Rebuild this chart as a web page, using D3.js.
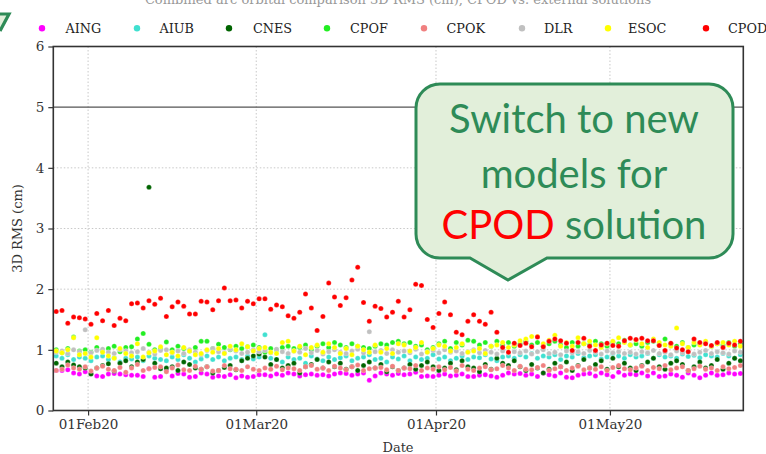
<!DOCTYPE html>
<html><head><meta charset="utf-8">
<script src="https://cdn.jsdelivr.net/npm/d3@7"></script>
<style>body{margin:0;background:#fff}svg{display:block}</style>
</head><body><svg id="c" width="766" height="454"></svg>
<script>
const seriesNames = ["AING","AIUB","CNES","CPOF","CPOK","DLR","ESOC","CPOD"];
const seriesColors = ["#ff00ff","#40e0d0","#006400","#22ee22","#f08080","#c0c0c0","#ffff00","#ff0000"];
const startDate = "2020-01-26";
const xTickDates = ["2020-02-01","2020-03-01","2020-04-01","2020-05-01"];
const xTickLabels = ["01Feb20","01Mar20","01Apr20","01May20"];
const yTicks = [0,1,2,3,4,5,6];

const AING = [0.66,0.66,0.67,0.62,0.60,0.64,0.61,0.57,0.56,0.60,0.61,0.60,0.59,0.58,0.58,0.56,0.69,0.55,0.56,0.66,
0.57,0.61,0.60,0.55,0.56,0.62,0.60,0.55,0.57,0.56,0.59,0.54,0.57,0.55,0.56,0.59,0.59,0.57,0.60,0.58,
0.62,0.60,0.57,0.59,0.60,0.58,0.59,0.57,0.60,0.62,0.61,0.58,0.60,0.62,0.50,0.57,0.62,0.60,0.58,0.61,
0.59,0.60,0.63,0.56,0.57,0.56,0.58,0.60,0.57,0.58,0.60,0.56,0.56,0.58,0.59,0.57,0.55,0.58,0.62,0.60,
0.61,0.58,0.60,0.56,0.62,0.59,0.57,0.62,0.55,0.54,0.58,0.60,0.61,0.57,0.62,0.59,0.56,0.63,0.58,0.60,
0.59,0.62,0.57,0.62,0.56,0.57,0.60,0.58,0.55,0.62,0.58,0.54,0.58,0.62,0.58,0.59,0.62,0.60,0.61];
const AIUB = [0.90,0.86,0.92,0.84,0.88,0.86,0.82,0.88,0.90,0.84,0.87,0.80,0.86,0.85,0.88,0.82,0.90,0.86,0.84,0.82,
0.88,0.84,0.92,0.86,0.80,0.85,0.90,0.84,0.88,0.82,0.86,0.88,0.84,0.90,0.85,0.88,1.25,0.86,0.84,0.80,
0.88,0.84,0.86,0.78,0.90,0.85,0.82,0.88,0.84,0.87,0.90,0.82,0.86,0.88,0.92,0.84,0.86,0.80,0.88,0.85,
0.90,0.82,0.88,0.84,0.86,0.92,0.85,0.88,0.82,0.86,0.90,0.84,0.88,0.87,0.92,0.85,0.82,0.88,0.90,0.86,
0.92,0.88,0.94,0.86,0.90,0.88,0.92,0.84,0.90,0.88,0.94,0.87,0.90,0.92,0.85,0.88,0.94,0.90,0.86,0.92,
0.88,0.90,0.94,0.86,0.92,0.88,0.90,0.86,0.93,0.89,0.91,0.87,0.92,0.90,0.88,0.94,0.90,0.86,0.92];
const CNES = [0.78,0.72,0.80,0.75,0.72,0.70,0.60,0.70,0.74,0.77,0.65,0.78,0.82,0.72,0.80,0.84,3.68,0.78,0.69,0.70,
0.72,0.66,0.80,0.76,0.70,0.68,0.72,0.62,0.66,0.71,0.74,0.67,0.82,0.86,0.90,0.93,0.88,0.76,0.84,0.70,
0.74,0.78,0.62,0.72,0.76,0.84,0.70,0.80,0.72,0.78,0.68,0.72,0.66,0.74,0.80,0.70,0.76,0.64,0.72,0.66,
0.70,0.76,0.68,0.74,0.80,0.72,0.66,0.70,0.78,0.67,0.82,0.72,0.70,0.64,0.76,0.68,0.86,0.78,0.74,0.82,
0.72,0.66,0.76,0.70,0.62,0.68,0.78,0.72,0.80,0.66,0.74,0.84,0.70,0.76,0.82,0.68,0.86,0.72,0.78,0.70,
0.66,0.74,0.80,0.86,0.72,0.68,0.78,0.82,0.76,0.66,0.72,0.80,0.70,0.74,0.84,0.68,0.78,0.86,0.82];
const CPOF = [1.00,0.95,1.02,1.21,0.98,1.00,0.96,1.04,0.98,1.02,1.06,0.97,1.04,1.05,1.18,1.27,1.09,1.00,1.02,1.13,
1.00,1.06,1.02,0.98,1.04,1.14,1.14,1.02,1.09,1.04,1.00,1.06,1.02,1.05,1.08,1.04,0.96,1.02,1.00,1.04,
1.06,1.02,1.04,1.08,1.00,1.06,1.10,1.04,1.12,1.08,1.04,1.10,1.06,1.04,1.02,1.06,1.10,1.08,1.12,1.14,
1.10,1.12,1.06,1.08,1.00,1.04,1.10,1.14,1.02,1.12,1.08,1.16,1.14,1.08,1.12,1.06,1.14,1.08,1.12,1.06,
1.10,1.14,1.08,1.12,1.06,1.10,1.14,1.08,1.04,1.12,1.06,1.10,1.08,1.14,1.10,1.06,1.12,1.10,1.16,1.08,
1.10,1.06,1.12,1.14,1.08,1.18,1.10,1.06,1.12,1.04,1.08,1.10,1.12,1.06,1.10,1.08,1.12,1.06,1.10];
const CPOK = [0.66,0.68,0.75,0.70,0.68,0.72,0.65,0.70,0.73,0.68,0.66,0.71,0.63,0.70,0.76,0.66,0.69,0.71,0.72,0.64,
0.70,0.75,0.67,0.66,0.73,0.68,0.72,0.65,0.66,0.74,0.69,0.68,0.66,0.72,0.68,0.66,0.70,0.68,0.73,0.67,
0.70,0.69,0.66,0.72,0.74,0.68,0.70,0.66,0.73,0.70,0.67,0.72,0.75,0.66,0.69,0.70,0.71,0.67,0.73,0.66,
0.70,0.69,0.74,0.66,0.70,0.68,0.72,0.67,0.71,0.65,0.74,0.68,0.66,0.70,0.72,0.67,0.69,0.74,0.70,0.66,
0.73,0.68,0.67,0.71,0.74,0.66,0.69,0.72,0.66,0.70,0.73,0.67,0.70,0.68,0.72,0.66,0.71,0.74,0.69,0.67,
0.70,0.73,0.66,0.71,0.69,0.74,0.67,0.70,0.72,0.66,0.69,0.73,0.68,0.70,0.66,0.72,0.69,0.71,0.74];
const DLR = [0.96,0.98,0.94,1.00,0.97,1.33,0.95,0.99,1.01,0.96,0.94,1.00,0.98,0.95,0.97,1.02,0.96,0.93,0.99,1.00,
0.95,0.98,0.94,1.00,0.96,0.92,0.99,1.02,0.97,0.95,1.01,0.98,0.94,0.96,1.00,0.97,0.99,0.95,1.01,0.97,
0.94,0.98,0.96,1.02,0.95,0.99,0.93,0.97,1.00,0.96,0.94,0.98,1.01,0.95,1.30,0.97,0.99,0.94,1.00,0.96,
0.98,0.95,1.01,0.93,0.97,0.99,0.95,1.00,0.96,0.98,0.94,0.97,1.00,0.95,0.99,0.96,0.93,0.98,0.95,0.97,
0.95,0.98,0.93,0.97,1.00,0.94,0.96,0.92,0.98,0.95,0.97,0.94,0.99,0.96,0.93,0.98,0.95,0.97,0.94,0.96,
0.93,0.97,0.95,0.99,0.94,0.96,0.92,0.98,0.95,0.97,0.93,0.96,0.99,0.94,0.97,0.95,0.93,0.98,0.96];
const ESOC = [0.98,0.95,1.00,1.20,0.92,0.94,0.88,1.20,0.96,0.90,0.86,1.02,0.94,0.90,1.10,0.88,0.95,0.98,1.05,0.92,
0.96,0.90,1.04,0.98,0.92,0.94,1.00,0.96,1.02,0.94,1.06,1.00,1.10,1.05,0.98,1.02,1.04,0.96,0.94,1.12,
1.14,0.98,1.06,0.92,1.04,1.08,0.96,1.10,1.04,0.94,1.02,0.92,1.06,1.00,0.96,1.08,0.96,1.02,0.94,1.10,
1.08,0.98,1.04,1.12,0.96,1.02,1.08,1.06,0.98,1.04,1.10,0.96,0.98,1.02,0.94,1.06,1.08,1.12,1.04,1.08,
1.15,1.18,1.22,1.22,1.10,1.16,1.24,1.06,1.12,1.06,1.20,1.10,1.14,1.08,1.04,1.10,1.14,1.20,1.12,1.08,
1.16,1.10,1.04,1.18,1.12,1.08,1.06,1.36,1.10,1.04,1.12,1.08,1.14,1.06,1.10,1.12,1.08,1.14,1.06];
const CPOD = [1.63,1.65,1.44,1.54,1.53,1.51,1.42,1.60,1.48,1.65,1.40,1.52,1.48,1.76,1.77,1.69,1.81,1.75,1.85,1.55,
1.71,1.79,1.72,1.59,1.59,1.80,1.79,1.66,1.81,2.02,1.81,1.82,1.69,1.80,1.76,1.84,1.84,1.67,1.74,1.71,
1.56,1.52,1.62,1.92,1.69,1.32,1.55,2.10,1.87,1.73,1.86,2.15,2.36,1.78,1.47,1.72,1.68,1.54,1.62,1.80,
1.54,1.66,2.08,2.06,1.50,1.37,1.60,1.79,1.58,1.29,1.25,1.47,1.58,1.47,1.42,1.62,1.29,1.04,0.96,1.11,
1.07,1.11,1.05,1.21,1.05,1.14,1.18,1.15,1.11,0.99,1.12,1.19,1.06,0.99,1.08,1.11,1.07,1.06,1.15,1.19,
1.17,1.19,1.15,1.15,1.07,0.99,1.11,1.03,1.00,0.97,1.18,1.12,1.10,1.07,1.12,1.04,1.11,1.08,1.14];
const seriesValues = [AING,AIUB,CNES,CPOF,CPOK,DLR,ESOC,CPOD];

const svg = d3.select("#c");
const m = {l:53.3, r:743.3, t:46.5, b:410.5};
const parse = d3.utcParse("%Y-%m-%d");
const t0 = parse(startDate);
const x = d3.scaleUtc().domain([t0, d3.utcDay.offset(t0,119)]).range([m.l, m.r]);
const y = d3.scaleLinear().domain([0,6]).range([m.b, m.t]);
const serif = "'DejaVu Serif', serif";

// title (cut off at top)
svg.append("text").attr("x",398).attr("y",4).attr("text-anchor","middle")
  .attr("font-family",serif).attr("font-size",13).attr("fill","#999")
  .text("Combined arc orbital comparison 3D RMS (cm), CPOD vs. external solutions");

// grid
const tickDates = xTickDates.map(parse);
svg.append("g").selectAll("line").data(tickDates).join("line")
  .attr("x1",d=>x(d)).attr("x2",d=>x(d)).attr("y1",m.t).attr("y2",m.b)
  .attr("stroke","#c8c8c8").attr("stroke-width",1).attr("stroke-dasharray","1.5,2");
svg.append("g").selectAll("line").data([1,2,3,4]).join("line")
  .attr("x1",m.l).attr("x2",m.r).attr("y1",d=>y(d)).attr("y2",d=>y(d))
  .attr("stroke","#c8c8c8").attr("stroke-width",1).attr("stroke-dasharray","1.5,2");
svg.append("line").attr("x1",m.l).attr("x2",m.r).attr("y1",y(5)).attr("y2",y(5))
  .attr("stroke","#555").attr("stroke-width",1.3);

// points
seriesValues.forEach((vals,si)=>{
  svg.append("g").selectAll("circle").data(vals).join("circle")
    .attr("cx",(d,i)=>x(d3.utcHour.offset(d3.utcDay.offset(t0,i),12)))
    .attr("cy",d=>y(d)).attr("r",2.5)
    .attr("fill",seriesColors[si]).attr("stroke","#fff").attr("stroke-width",0.4).attr("stroke-opacity",0.6);
});

// axes
const xAxis = d3.axisBottom(x).tickValues(tickDates).tickFormat((d,i)=>xTickLabels[i]).tickSize(5).tickPadding(4);
const gx = svg.append("g").attr("transform",`translate(0,${m.b})`).call(xAxis);
const yAxis = d3.axisLeft(y).tickValues(yTicks).tickFormat(d3.format("d")).tickSize(5).tickPadding(4);
const gy = svg.append("g").attr("transform",`translate(${m.l},0)`).call(yAxis);
[gx,gy].forEach(g=>{
  g.select(".domain").remove();
  g.selectAll(".tick line").attr("stroke","#333").attr("stroke-width",1.2);
  g.selectAll(".tick text").attr("font-family",serif).attr("font-size",13.5).attr("fill","#333");
});
svg.append("rect").attr("x",m.l).attr("y",m.t).attr("width",m.r-m.l).attr("height",m.b-m.t)
  .attr("fill","none").attr("stroke","#333").attr("stroke-width",1.6);

// axis titles
svg.append("text").attr("x",398).attr("y",452).attr("text-anchor","middle")
  .attr("font-family",serif).attr("font-size",13).attr("fill","#333").text("Date");
svg.append("text").attr("transform",`translate(22,${(m.t+m.b)/2}) rotate(-90)`).attr("text-anchor","middle")
  .attr("font-family",serif).attr("font-size",13).attr("fill","#333").text("3D RMS (cm)");

// legend
const legX = [42,137,229,327,424,522,608,706];
const legTX = [65.5,159.5,253,350,446.5,544,628,728];
const lg = svg.append("g");
seriesNames.forEach((n,i)=>{
  lg.append("circle").attr("cx",legX[i]).attr("cy",28.3).attr("r",3.2).attr("fill",seriesColors[i]);
  lg.append("text").attr("x",legTX[i]).attr("y",32.8).attr("font-family",serif).attr("font-size",12.8)
    .attr("fill","#222").text(n);
});

// green fragment top-left
svg.append("path").attr("d","M-2,14 L9,14 L0,31").attr("fill","#e2efda").attr("stroke","#2e8b57").attr("stroke-width",3.2);

// callout
const bx=416, by=84, bw=317, bh=174, r=24, px1=470, px2=547, tipX=508, tipY=280;
const p = d3.path();
p.moveTo(bx+r,by); p.lineTo(bx+bw-r,by); p.arcTo(bx+bw,by,bx+bw,by+r,r);
p.lineTo(bx+bw,by+bh-r); p.arcTo(bx+bw,by+bh,bx+bw-r,by+bh,r);
p.lineTo(px2,by+bh); p.lineTo(tipX,tipY); p.lineTo(px1,by+bh);
p.lineTo(bx+r,by+bh); p.arcTo(bx,by+bh,bx,by+bh-r,r);
p.lineTo(bx,by+r); p.arcTo(bx,by,bx+r,by,r); p.closePath();
svg.append("path").attr("d",p.toString()).attr("fill","#e2efda").attr("stroke","#2e8b57").attr("stroke-width",3);
const cf = "Lato, 'Open Sans', sans-serif";
const cx = 574;
svg.append("text").attr("x",cx).attr("y",133).attr("text-anchor","middle").attr("font-family",cf)
  .attr("font-size",40).attr("fill","#2e8b57").text("Switch to new");
svg.append("text").attr("x",cx).attr("y",188).attr("text-anchor","middle").attr("font-family",cf)
  .attr("font-size",40).attr("fill","#2e8b57").text("models for");
const t3 = svg.append("text").attr("x",cx).attr("y",239).attr("text-anchor","middle").attr("font-family",cf)
  .attr("font-size",40).attr("fill","#2e8b57");
t3.append("tspan").attr("fill","#ff0000").text("CPOD");
t3.append("tspan").text(" solution");
</script></body></html>
